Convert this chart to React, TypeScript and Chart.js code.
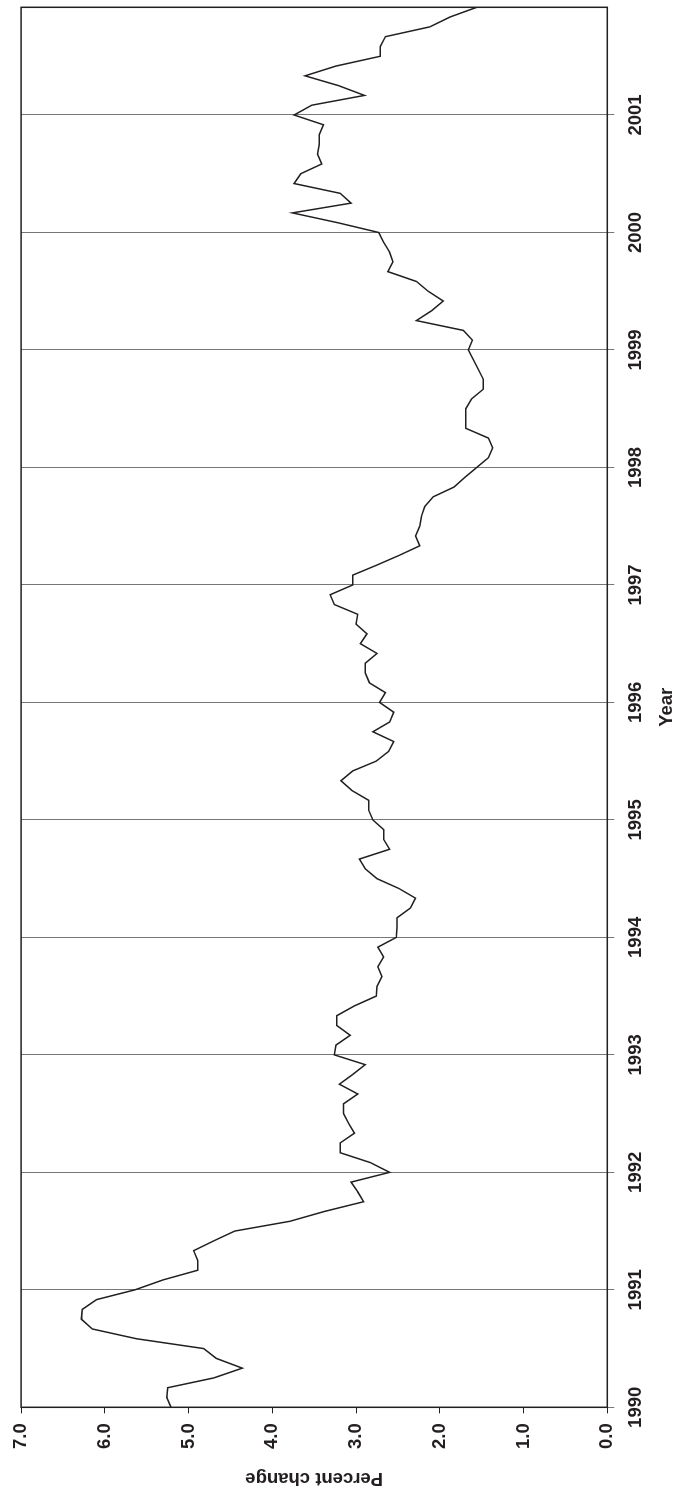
import { useEffect, useRef } from "react";
import { Chart, registerables } from "chart.js";

Chart.register(...registerables);

// Year tick labels (x axis) and percent tick values (y axis)
const YEARS = [1990, 1991, 1992, 1993, 1994, 1995, 1996, 1997, 1998, 1999, 2000, 2001];
const PCT_TICKS = [0, 1, 2, 3, 4, 5, 6, 7];

// Monthly percent change, Jan..Dec of each year
const PCT_1990 = [5.21, 5.26, 5.25, 4.7, 4.36, 4.67, 4.82, 5.62, 6.15, 6.28, 6.27, 6.1];
const PCT_1991 = [5.64, 5.31, 4.89, 4.89, 4.94, 4.7, 4.45, 3.79, 3.38, 2.91, 2.98, 3.06];
const PCT_1992 = [2.6, 2.83, 3.19, 3.19, 3.02, 3.09, 3.15, 3.15, 2.98, 3.2, 3.04, 2.89];
const PCT_1993 = [3.26, 3.24, 3.07, 3.23, 3.23, 3.02, 2.76, 2.75, 2.69, 2.74, 2.67, 2.74];
const PCT_1994 = [2.52, 2.51, 2.51, 2.35, 2.29, 2.49, 2.75, 2.89, 2.96, 2.6, 2.67, 2.67];
const PCT_1995 = [2.8, 2.85, 2.85, 3.05, 3.18, 3.04, 2.76, 2.61, 2.55, 2.8, 2.6, 2.55];
const PCT_1996 = [2.72, 2.65, 2.84, 2.89, 2.89, 2.75, 2.95, 2.87, 3.0, 2.98, 3.26, 3.31];
const PCT_1997 = [3.04, 3.04, 2.76, 2.49, 2.24, 2.29, 2.24, 2.22, 2.18, 2.08, 1.83, 1.7];
const PCT_1998 = [1.56, 1.42, 1.37, 1.42, 1.69, 1.69, 1.69, 1.62, 1.48, 1.48, 1.54, 1.6];
const PCT_1999 = [1.66, 1.61, 1.72, 2.28, 2.1, 1.96, 2.14, 2.28, 2.62, 2.56, 2.6, 2.67];
const PCT_2000 = [2.73, 3.22, 3.76, 3.06, 3.19, 3.74, 3.66, 3.41, 3.46, 3.44, 3.44, 3.39];
const PCT_2001 = [3.74, 3.53, 2.9, 3.21, 3.61, 3.24, 2.71, 2.71, 2.65, 2.12, 1.88, 1.56];

const SERIES = [
  PCT_1990, PCT_1991, PCT_1992, PCT_1993, PCT_1994, PCT_1995,
  PCT_1996, PCT_1997, PCT_1998, PCT_1999, PCT_2000, PCT_2001,
];

const X_TITLE = "Year";
const Y_TITLE = "Percent change";

const W = 1489;
const H = 686;

export default function App() {
  const ref = useRef<HTMLCanvasElement | null>(null);

  useEffect(() => {
    if (!ref.current) return;
    const points = SERIES.flatMap((arr, yi) =>
      arr.map((v, m) => ({ x: YEARS[yi] + m / 12, y: v }))
    );
    const font = { family: "'Liberation Sans', Arial, sans-serif", size: 18.5, weight: "bold" as const };
    const textColor = "#231f20";

    const framePlugin = {
      id: "frame",
      afterDatasetsDraw(chart: any) {
        const { ctx, chartArea: a } = chart;
        ctx.save();
        ctx.strokeStyle = "#231f20";
        ctx.lineWidth = 1.5;
        ctx.strokeRect(a.left, a.top, a.right - a.left, a.bottom - a.top);
        ctx.restore();
      },
    };

    const chart = new Chart(ref.current, {
      type: "line",
      data: {
        datasets: [
          {
            data: points,
            borderColor: "#231f20",
            borderWidth: 1.5,
            pointRadius: 0,
            tension: 0,
            fill: false,
          },
        ],
      },
      options: {
        animation: false,
        responsive: false,
        layout: { padding: { left: 0, right: 7.3, top: 20.7, bottom: 0 } },
        plugins: { legend: { display: false }, tooltip: { enabled: false } },
        scales: {
          x: {
            type: "linear",
            min: YEARS[0],
            max: YEARS[0] + (SERIES.length * 12 - 1) / 12,
            afterBuildTicks: (s: any) => {
              s.ticks = YEARS.map((v) => ({ value: v }));
            },
            afterFit: (s: any) => {
              s.height = H - 607.3;
            },
            ticks: {
              font,
              color: textColor,
              padding: 10.6,
              maxRotation: 0,
              autoSkip: false,
              callback: (v: any) => String(v),
            },
            grid: { color: "#777", lineWidth: 1, tickLength: 7, drawOnChartArea: true },
            border: { display: false },
            title: {
              display: true,
              text: X_TITLE,
              font,
              color: textColor,
              padding: { top: 0, bottom: 8 },
            },
          },
          y: {
            type: "linear",
            min: 0,
            max: 7,
            afterBuildTicks: (s: any) => {
              s.ticks = PCT_TICKS.map((v) => ({ value: v }));
            },
            afterFit: (s: any) => {
              s.width = 81.7;
            },
            ticks: {
              font,
              color: textColor,
              padding: 10,
              callback: (v: any) => Number(v).toFixed(1),
            },
            grid: { drawOnChartArea: false, tickLength: 6, color: "#231f20", lineWidth: 1 },
            border: { display: false },
            title: {
              display: true,
              text: Y_TITLE,
              font: { ...font, lineHeight: 1 },
              color: textColor,
              padding: { top: 2, bottom: 0 },
            },
          },
        },
      },
      plugins: [framePlugin],
    });
    return () => chart.destroy();
  }, []);

  return (
    <div
      style={{
        position: "absolute",
        left: 0,
        top: 0,
        width: H,
        height: W,
        overflow: "hidden",
        background: "#fff",
      }}
    >
      <div
        style={{
          position: "absolute",
          left: 0,
          top: 0,
          width: W,
          height: H,
          transformOrigin: "0 0",
          transform: `translateY(${W}px) rotate(-90deg)`,
        }}
      >
        <canvas ref={ref} width={W} height={H} style={{ display: "block", width: W, height: H }} />
      </div>
    </div>
  );
}
